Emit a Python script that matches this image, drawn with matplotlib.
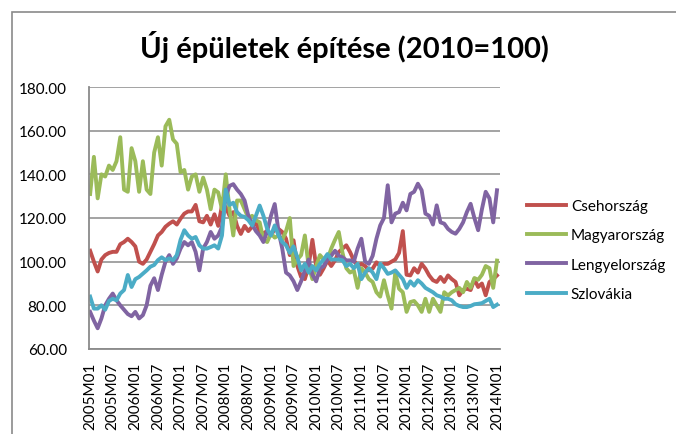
import matplotlib
matplotlib.use('Agg')
import matplotlib.pyplot as plt
from matplotlib.patches import Rectangle

plt.rcParams['font.family'] = ['Lato', 'DejaVu Sans']

# monthly index values 2005M01 .. 2014M01 (2010=100)
cseh = [105, 100, 95.5, 101, 103, 104, 104.5, 104.5, 108, 109, 110.5, 109, 107, 100, 99, 101,
        104.5, 108, 112, 113.6, 116, 117.4, 118.5, 117, 119.7, 122, 123, 123, 126, 118.5,
        118, 121, 117, 121.7, 116.4, 125.7, 125, 121, 122.7, 116.4, 112.7, 116.4, 114, 116,
        118, 113.6, 113, 114, 112, 115, 115, 113.6, 110.5, 103, 109.8, 98, 93, 92, 98, 110,
        98, 94, 97, 100.6, 98, 100.6, 104.4, 106, 107.5, 104.4, 100.6, 98, 99, 98, 96, 96.8,
        99.7, 98, 99, 99, 100, 101, 104, 114, 94, 93.7, 97, 95, 99, 96.8, 93.7, 91.5, 90.7,
        93, 90.7, 93.7, 92, 90.7, 84.6, 87, 87.6, 87, 92, 88.4, 90, 84.6, 90.7, 92, 93.7]

magyar = [131, 148, 129, 140, 139, 144, 142, 146, 157, 133, 132, 152, 146, 132, 146, 133,
          131, 150, 157, 144, 162, 165, 156, 154, 141, 142, 133, 139, 140, 132, 138.5, 133,
          124, 133, 131.7, 124, 140, 124, 112, 128, 128, 124, 120, 121, 119, 118, 110, 109,
          113, 111, 112, 110, 114, 120, 98, 101, 103, 112, 98, 92, 98, 103, 101, 101, 106,
          110, 113.6, 104, 97, 95, 96, 88, 97, 95, 92, 90.7, 86, 84, 91.5, 84.5, 78.5, 95,
          87.6, 86, 77, 81.5, 82, 80, 77, 83, 77, 83, 80, 77, 86, 84.5, 86, 87, 88, 86, 90.7,
          88, 92.5, 91.7, 94, 98, 97, 88, 100.5]

lengyel = [77, 73, 69.5, 74, 80, 83, 85.4, 82.3, 80, 78, 76, 75, 77, 74, 75.5, 80, 89, 92.4,
           87, 94, 100, 103, 99, 101.5, 106, 109, 107.5, 109, 104.5, 96, 106, 109, 113.6,
           110.5, 112, 116, 130, 134.7, 135.5, 133, 131, 128, 121, 117, 114, 112, 109, 114,
           121, 126.4, 114, 106, 95, 93.7, 91, 87, 91, 96, 101, 94, 91, 97, 98, 101, 102.7,
           105, 102.7, 102, 100.6, 100.6, 100, 106, 110.5, 100, 99, 102.7, 110.5, 116.6, 120,
           135, 118, 122, 122.7, 127, 123.5, 131, 132, 135.7, 132.7, 122, 121, 117, 125.8,
           118, 117.4, 115, 113.6, 112.8, 115, 118, 122.7, 126.5, 120, 114.4, 124, 132, 129,
           118, 132.7]

szlovak = [84, 78.5, 78.5, 80, 78, 82, 83, 82.3, 85.4, 87, 93.9, 88.4, 92, 93, 94.5, 96,
           97.7, 98.5, 100.7, 102, 100.7, 101.5, 100.7, 103, 110, 114.4, 112, 110.5, 111.3,
           107.5, 106, 106, 106.7, 107.5, 106, 112, 133, 126, 127, 122.7, 121, 120.5, 119,
           116.6, 121, 125.7, 121, 115, 112, 116.6, 112, 109, 107.5, 104, 107, 102, 96, 99,
           95, 98, 96, 99, 101, 103.5, 101, 101, 101, 100.6, 98, 99, 97, 99, 92, 95, 97, 95,
           92, 99, 97, 94.4, 95, 96, 94, 92, 88, 91, 89, 91.5, 90, 88, 87, 86, 84.6, 84, 83,
           83, 82.3, 80.5, 79.7, 79.2, 79.2, 79.7, 80.5, 80.7, 81, 82, 83, 79.2, 80.3]

tick_labels = ['2005M01', '2005M07', '2006M01', '2006M07', '2007M01', '2007M07',
               '2008M01', '2008M07', '2009M01', '2009M07', '2010M01', '2010M07',
               '2011M01', '2011M07', '2012M01', '2012M07', '2013M01', '2013M07', '2014M01']

series = [('Csehország', cseh, '#C0504D'),
          ('Magyarország', magyar, '#9BBB59'),
          ('Lengyelország', lengyel, '#8064A2'),
          ('Szlovákia', szlovak, '#4BACC6')]

fig = plt.figure(figsize=(6.76, 4.35), dpi=100)
ax = fig.add_axes([89 / 676, 1 - 350 / 435, 411 / 676, 262 / 435])

x = list(range(len(cseh)))
for name, vals, col in series:
    ax.plot(x, vals, color=col, lw=2.8, label=name, solid_joinstyle='round')

ax.set_ylim(60, 180)
ax.set_yticks(range(60, 181, 20))
ax.set_yticklabels(['%.2f' % v for v in range(60, 181, 20)])
ax.set_xlim(-0.3, 108.8)
ax.set_xticks(range(0, len(cseh), 6))
ax.set_xticklabels(tick_labels, rotation=90)
ax.tick_params(axis='both', length=0, labelsize=11, colors='black')
ax.tick_params(axis='y', pad=16)
ax.tick_params(axis='x', pad=9)
ax.grid(axis='y', color='#8a8a8a', lw=1.1)
ax.set_axisbelow(True)
for s in ['top', 'right']:
    ax.spines[s].set_visible(False)
for s in ['left', 'bottom']:
    ax.spines[s].set_color('#8a8a8a')
    ax.spines[s].set_linewidth(1.3)

fig.text(0.51, 1 - 47 / 435, 'Új épületek építése (2010=100)', ha='center', va='center',
         fontsize=21, fontweight='bold')

ax.legend(loc='upper left', bbox_to_anchor=(0.77, 1 - 194 / 435), bbox_transform=fig.transFigure,
          frameon=False, fontsize=11, handlelength=2.6, handletextpad=0.3, labelspacing=1.0,
          borderaxespad=0)

# chart area border
fig.patches.append(Rectangle((12 / 676, -0.05), 1.2, 1 - 13 / 435 + 0.05, transform=fig.transFigure,
                             fill=False, edgecolor='#8a8a8a', lw=1.2))

fig.savefig('out.png', dpi=100)
